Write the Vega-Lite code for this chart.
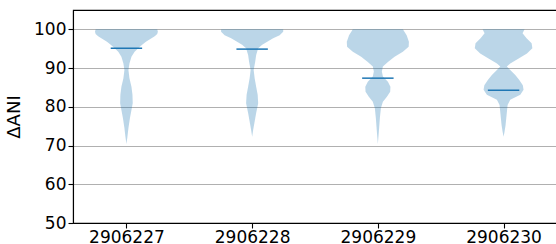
{
  "$schema": "https://vega.github.io/schema/vega-lite/v6.json",
  "autosize": {"type": "none"},
  "width": 484,
  "height": 213,
  "padding": {"left": 73, "top": 10, "right": 0, "bottom": 21},
  "config": {
    "font": "DejaVu Sans",
    "view": {"stroke": "#000000", "strokeWidth": 1.1},
    "axis": {
      "labelFont": "DejaVu Sans", "labelFontSize": 17, "labelColor": "#000000",
      "titleFont": "DejaVu Sans", "titleFontSize": 17, "titleFontWeight": "normal", "titleColor": "#000000",
      "domainColor": "#000000", "domainWidth": 1.1,
      "tickColor": "#000000", "tickWidth": 1.1, "tickSize": 5,
      "gridColor": "#b0b0b0", "gridWidth": 1.1, "gridOpacity": 1
    }
  },
  "datasets": {
    "violins": [
      {"cat": "2906227", "pos": 1, "ani": 100.0, "w": 0.245},
      {"cat": "2906227", "pos": 1, "ani": 99.4, "w": 0.25},
      {"cat": "2906227", "pos": 1, "ani": 98.8, "w": 0.245},
      {"cat": "2906227", "pos": 1, "ani": 98.2, "w": 0.225},
      {"cat": "2906227", "pos": 1, "ani": 97.5, "w": 0.19},
      {"cat": "2906227", "pos": 1, "ani": 96.8, "w": 0.155},
      {"cat": "2906227", "pos": 1, "ani": 96.0, "w": 0.125},
      {"cat": "2906227", "pos": 1, "ani": 95.3, "w": 0.1},
      {"cat": "2906227", "pos": 1, "ani": 94.2, "w": 0.065},
      {"cat": "2906227", "pos": 1, "ani": 92.9, "w": 0.04},
      {"cat": "2906227", "pos": 1, "ani": 91.2, "w": 0.024},
      {"cat": "2906227", "pos": 1, "ani": 89.5, "w": 0.016},
      {"cat": "2906227", "pos": 1, "ani": 87.4, "w": 0.024},
      {"cat": "2906227", "pos": 1, "ani": 85.2, "w": 0.04},
      {"cat": "2906227", "pos": 1, "ani": 83.1, "w": 0.048},
      {"cat": "2906227", "pos": 1, "ani": 80.9, "w": 0.05},
      {"cat": "2906227", "pos": 1, "ani": 79.2, "w": 0.04},
      {"cat": "2906227", "pos": 1, "ani": 77.1, "w": 0.028},
      {"cat": "2906227", "pos": 1, "ani": 74.5, "w": 0.016},
      {"cat": "2906227", "pos": 1, "ani": 72.3, "w": 0.008},
      {"cat": "2906227", "pos": 1, "ani": 70.4, "w": 0.0},
      {"cat": "2906228", "pos": 2, "ani": 100.0, "w": 0.247},
      {"cat": "2906228", "pos": 2, "ani": 99.4, "w": 0.247},
      {"cat": "2906228", "pos": 2, "ani": 98.5, "w": 0.219},
      {"cat": "2906228", "pos": 2, "ani": 97.7, "w": 0.167},
      {"cat": "2906228", "pos": 2, "ani": 96.8, "w": 0.12},
      {"cat": "2906228", "pos": 2, "ani": 96.0, "w": 0.08},
      {"cat": "2906228", "pos": 2, "ani": 95.1, "w": 0.048},
      {"cat": "2906228", "pos": 2, "ani": 93.4, "w": 0.032},
      {"cat": "2906228", "pos": 2, "ani": 91.6, "w": 0.024},
      {"cat": "2906228", "pos": 2, "ani": 89.5, "w": 0.012},
      {"cat": "2906228", "pos": 2, "ani": 87.4, "w": 0.02},
      {"cat": "2906228", "pos": 2, "ani": 85.2, "w": 0.032},
      {"cat": "2906228", "pos": 2, "ani": 83.1, "w": 0.044},
      {"cat": "2906228", "pos": 2, "ani": 80.9, "w": 0.048},
      {"cat": "2906228", "pos": 2, "ani": 78.4, "w": 0.032},
      {"cat": "2906228", "pos": 2, "ani": 76.2, "w": 0.02},
      {"cat": "2906228", "pos": 2, "ani": 74.0, "w": 0.008},
      {"cat": "2906228", "pos": 2, "ani": 72.3, "w": 0.0},
      {"cat": "2906229", "pos": 3, "ani": 100.0, "w": 0.199},
      {"cat": "2906229", "pos": 3, "ani": 98.5, "w": 0.229},
      {"cat": "2906229", "pos": 3, "ani": 96.8, "w": 0.247},
      {"cat": "2906229", "pos": 3, "ani": 95.5, "w": 0.245},
      {"cat": "2906229", "pos": 3, "ani": 94.2, "w": 0.199},
      {"cat": "2906229", "pos": 3, "ani": 92.9, "w": 0.133},
      {"cat": "2906229", "pos": 3, "ani": 91.6, "w": 0.08},
      {"cat": "2906229", "pos": 3, "ani": 90.4, "w": 0.04},
      {"cat": "2906229", "pos": 3, "ani": 89.1, "w": 0.032},
      {"cat": "2906229", "pos": 3, "ani": 87.8, "w": 0.04},
      {"cat": "2906229", "pos": 3, "ani": 86.5, "w": 0.08},
      {"cat": "2906229", "pos": 3, "ani": 85.2, "w": 0.1},
      {"cat": "2906229", "pos": 3, "ani": 83.9, "w": 0.098},
      {"cat": "2906229", "pos": 3, "ani": 82.6, "w": 0.072},
      {"cat": "2906229", "pos": 3, "ani": 81.3, "w": 0.04},
      {"cat": "2906229", "pos": 3, "ani": 79.6, "w": 0.024},
      {"cat": "2906229", "pos": 3, "ani": 77.1, "w": 0.016},
      {"cat": "2906229", "pos": 3, "ani": 73.6, "w": 0.008},
      {"cat": "2906229", "pos": 3, "ani": 70.4, "w": 0.0},
      {"cat": "2906230", "pos": 4, "ani": 100.0, "w": 0.167},
      {"cat": "2906230", "pos": 4, "ani": 99.0, "w": 0.151},
      {"cat": "2906230", "pos": 4, "ani": 97.7, "w": 0.183},
      {"cat": "2906230", "pos": 4, "ani": 96.4, "w": 0.223},
      {"cat": "2906230", "pos": 4, "ani": 95.1, "w": 0.229},
      {"cat": "2906230", "pos": 4, "ani": 93.8, "w": 0.186},
      {"cat": "2906230", "pos": 4, "ani": 92.5, "w": 0.12},
      {"cat": "2906230", "pos": 4, "ani": 91.2, "w": 0.053},
      {"cat": "2906230", "pos": 4, "ani": 90.4, "w": 0.026},
      {"cat": "2906230", "pos": 4, "ani": 89.5, "w": 0.053},
      {"cat": "2906230", "pos": 4, "ani": 88.2, "w": 0.093},
      {"cat": "2906230", "pos": 4, "ani": 86.9, "w": 0.125},
      {"cat": "2906230", "pos": 4, "ani": 85.6, "w": 0.153},
      {"cat": "2906230", "pos": 4, "ani": 84.4, "w": 0.159},
      {"cat": "2906230", "pos": 4, "ani": 83.1, "w": 0.133},
      {"cat": "2906230", "pos": 4, "ani": 81.8, "w": 0.053},
      {"cat": "2906230", "pos": 4, "ani": 80.5, "w": 0.032},
      {"cat": "2906230", "pos": 4, "ani": 77.9, "w": 0.024},
      {"cat": "2906230", "pos": 4, "ani": 75.3, "w": 0.016},
      {"cat": "2906230", "pos": 4, "ani": 73.6, "w": 0.008},
      {"cat": "2906230", "pos": 4, "ani": 72.3, "w": 0.0}
    ],
    "medians": [
      {"cat": "2906227", "pos": 1, "median": 95.1},
      {"cat": "2906228", "pos": 2, "median": 94.9},
      {"cat": "2906229", "pos": 3, "median": 87.4},
      {"cat": "2906230", "pos": 4, "median": 84.3}
    ]
  },
  "layer": [
    {
      "data": {"name": "violins"},
      "transform": [
        {"calculate": "datum.pos - datum.w", "as": "lo"},
        {"calculate": "datum.pos + datum.w", "as": "hi"}
      ],
      "mark": {"type": "area", "orient": "horizontal", "fill": "#1f77b4", "fillOpacity": 0.3, "strokeWidth": 0},
      "encoding": {
        "detail": {"field": "cat", "type": "nominal"},
        "y": {
          "field": "ani", "type": "quantitative",
          "scale": {"domain": [50, 105], "nice": false, "zero": false},
          "axis": {"values": [50, 60, 70, 80, 90, 100], "title": "ΔANI", "grid": true, "labelPadding": 2, "titlePadding": 10, "titleFontSize": 18}
        },
        "x": {
          "field": "lo", "type": "quantitative", "stack": null,
          "scale": {"domain": [0.575, 4.425], "nice": false, "zero": false},
          "axis": {"values": [1, 2, 3, 4], "grid": false, "title": null, "labelPadding": 1.5,
                   "labelExpr": "['', '2906227', '2906228', '2906229', '2906230'][datum.value]"}
        },
        "x2": {"field": "hi"}
      }
    },
    {
      "data": {"name": "medians"},
      "transform": [
        {"calculate": "datum.pos - 0.125", "as": "lo"},
        {"calculate": "datum.pos + 0.125", "as": "hi"}
      ],
      "mark": {"type": "rule", "color": "#1f77b4", "strokeWidth": 1.5},
      "encoding": {
        "x": {"field": "lo", "type": "quantitative"},
        "x2": {"field": "hi"},
        "y": {"field": "median", "type": "quantitative"}
      }
    }
  ]
}
